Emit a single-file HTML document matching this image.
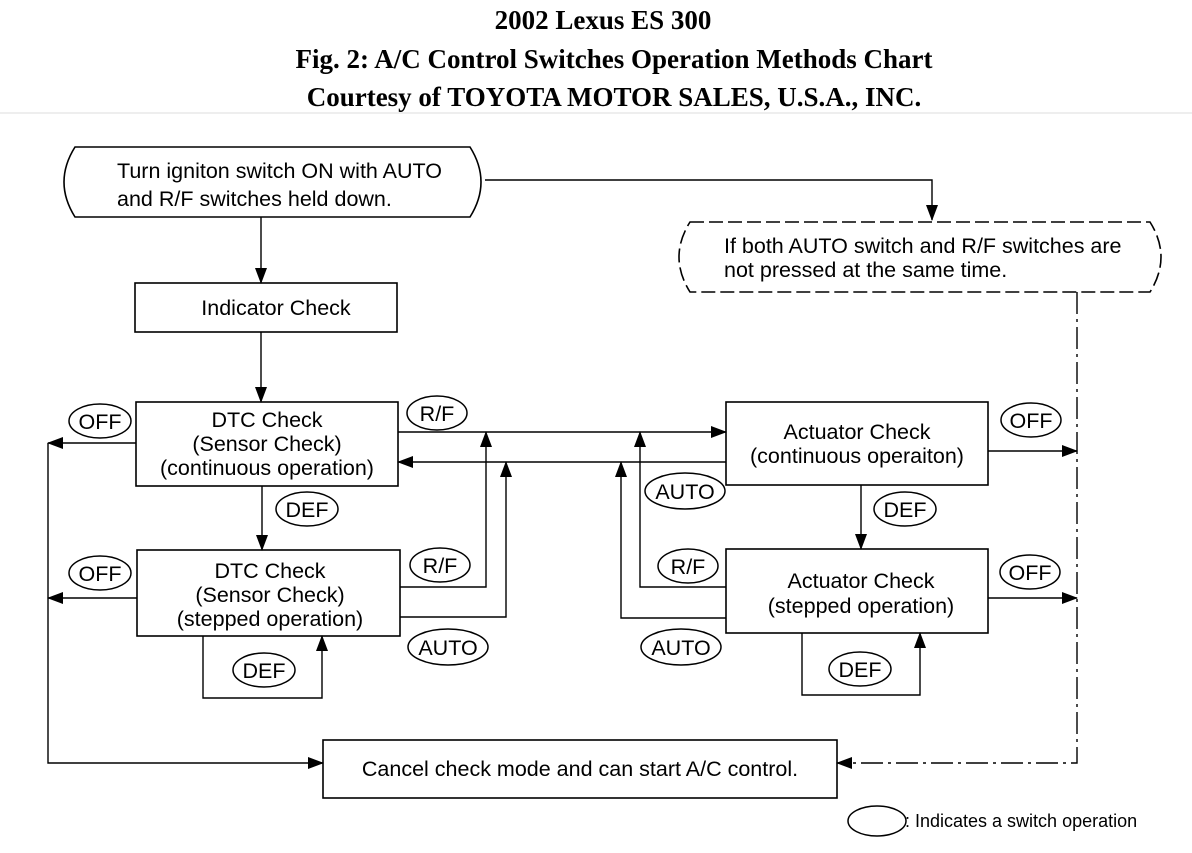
<!DOCTYPE html>
<html><head><meta charset="utf-8"><style>
html,body{margin:0;padding:0;background:#fff;width:1192px;height:853px;overflow:hidden}
</style></head><body>
<svg width="1192" height="853" viewBox="0 0 1192 853" xmlns="http://www.w3.org/2000/svg">
<defs>
<marker id="b" markerWidth="16" markerHeight="12" refX="15" refY="6" orient="auto" markerUnits="userSpaceOnUse"><path d="M0,0 L16,6 L0,12 Z" fill="#000"/></marker>
</defs>
<g font-family="Liberation Serif, serif" font-weight="bold" font-size="27" text-anchor="middle">
<text x="603" y="29">2002 Lexus ES 300</text>
<text x="614" y="68">Fig. 2: A/C Control Switches Operation Methods Chart</text>
<text x="614" y="106">Courtesy of TOYOTA MOTOR SALES, U.S.A., INC.</text>
</g>
<line x1="0" y1="113" x2="1192" y2="113" stroke="#ddd" stroke-width="1"/>
<g fill="none" stroke="#000" stroke-width="1.6">
<path d="M75,147 L470,147 Q492,182 470,217 L75,217 Q53,182 75,147 Z"/>
<path d="M690,222 L1150,222 Q1172,257 1150,292 L690,292 Q668,257 690,222 Z" stroke-dasharray="14,5"/>
<rect x="135" y="283" width="262" height="49"/>
<rect x="136" y="402" width="262" height="84"/>
<rect x="137" y="550" width="263" height="86"/>
<rect x="726" y="402" width="262" height="83"/>
<rect x="726" y="549" width="262" height="84"/>
<rect x="323" y="740" width="514" height="58"/>
</g>
<g fill="none" stroke="#000" stroke-width="1.4">
<path d="M485,180 L932,180 L932,220" marker-end="url(#b)"/>
<line x1="261" y1="217" x2="261" y2="283" marker-end="url(#b)"/>
<line x1="261" y1="332" x2="261" y2="402" marker-end="url(#b)"/>
<line x1="262" y1="486" x2="262" y2="550" marker-end="url(#b)"/>
<line x1="861" y1="485" x2="861" y2="549" marker-end="url(#b)"/>
<line x1="136" y1="443" x2="48" y2="443" marker-end="url(#b)"/>
<line x1="137" y1="598" x2="48" y2="598" marker-end="url(#b)"/>
<path d="M48,443 L48,763 L323,763" marker-end="url(#b)"/>
<line x1="398" y1="432" x2="726" y2="432" marker-end="url(#b)"/>
<line x1="726" y1="462" x2="398" y2="462" marker-end="url(#b)"/>
<path d="M400,587 L486,587 L486,432" marker-end="url(#b)"/>
<path d="M400,617 L506,617 L506,462" marker-end="url(#b)"/>
<path d="M726,587 L640,587 L640,432" marker-end="url(#b)"/>
<path d="M726,618 L621,618 L621,462" marker-end="url(#b)"/>
<path d="M203,636 L203,698 L322,698 L322,636" marker-end="url(#b)"/>
<path d="M802,633 L802,695 L920,695 L920,633" marker-end="url(#b)"/>
<line x1="988" y1="451" x2="1077" y2="451" marker-end="url(#b)"/>
<line x1="988" y1="598" x2="1077" y2="598" marker-end="url(#b)"/>
<path d="M1077,292 L1077,763 L837,763" stroke-dasharray="22,5,3,5" marker-end="url(#b)"/>
</g>
<g fill="#fff" stroke="#000" stroke-width="1.5">
<ellipse cx="100" cy="421" rx="31" ry="17"/>
<ellipse cx="100" cy="573" rx="31" ry="17"/>
<ellipse cx="437" cy="413" rx="30" ry="17"/>
<ellipse cx="307" cy="509" rx="31" ry="17"/>
<ellipse cx="440" cy="565" rx="30" ry="17"/>
<ellipse cx="448" cy="647" rx="40" ry="18"/>
<ellipse cx="264" cy="670" rx="31" ry="17"/>
<ellipse cx="1031" cy="420" rx="30" ry="17"/>
<ellipse cx="685" cy="491" rx="40" ry="18"/>
<ellipse cx="905" cy="509" rx="31" ry="17"/>
<ellipse cx="688" cy="566" rx="30" ry="17"/>
<ellipse cx="1030" cy="572" rx="30" ry="17"/>
<ellipse cx="681" cy="647" rx="40" ry="18"/>
<ellipse cx="860" cy="669" rx="31" ry="17"/>
<ellipse cx="877" cy="821" rx="29" ry="15"/>
</g>
<g font-family="Liberation Sans, sans-serif" font-size="21.5" fill="#000">
<text x="117" y="178">Turn igniton switch ON with AUTO</text>
<text x="117" y="206">and R/F switches held down.</text>
<text x="724" y="253">If both AUTO switch and R/F switches are</text>
<text x="724" y="277">not pressed at the same time.</text>
<g text-anchor="middle">
<text x="276" y="315">Indicator Check</text>
<text x="267" y="427">DTC Check</text>
<text x="267" y="451">(Sensor Check)</text>
<text x="267" y="475">(continuous operation)</text>
<text x="270" y="578">DTC Check</text>
<text x="270" y="602">(Sensor Check)</text>
<text x="270" y="626">(stepped operation)</text>
<text x="857" y="439">Actuator Check</text>
<text x="857" y="463">(continuous operaiton)</text>
<text x="861" y="588">Actuator Check</text>
<text x="861" y="613">(stepped operation)</text>
<text x="580" y="776">Cancel check mode and can start A/C control.</text>
<text x="100" y="429">OFF</text>
<text x="100" y="581">OFF</text>
<text x="437" y="421">R/F</text>
<text x="307" y="517">DEF</text>
<text x="440" y="573">R/F</text>
<text x="448" y="655">AUTO</text>
<text x="264" y="678">DEF</text>
<text x="1031" y="428">OFF</text>
<text x="685" y="499">AUTO</text>
<text x="905" y="517">DEF</text>
<text x="688" y="574">R/F</text>
<text x="1030" y="580">OFF</text>
<text x="681" y="655">AUTO</text>
<text x="860" y="677">DEF</text>
</g>
<text x="905" y="827" font-size="18">: Indicates a switch operation</text>
</g>
</svg>
</body></html>
